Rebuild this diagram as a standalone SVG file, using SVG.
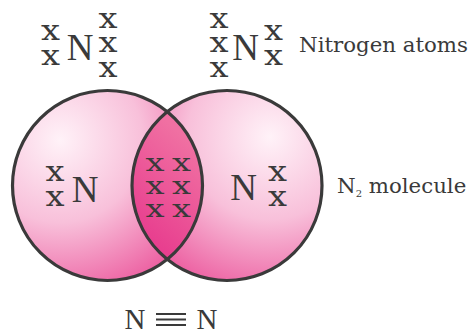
<svg xmlns="http://www.w3.org/2000/svg" width="471" height="332" viewBox="0 0 471 332">
<style>
text{font-family:"Liberation Serif","DejaVu Serif",serif;fill:#3a3a3a}
.x{font-family:"DejaVu Serif",serif;font-size:27px;text-anchor:middle}
.m{font-family:"DejaVu Serif",serif;font-size:25px;text-anchor:middle}
.n{font-size:37px;text-anchor:middle}
.f{font-size:29px;text-anchor:middle}
.l{font-family:"DejaVu Serif",serif;font-size:21.300px}
.c{fill:none;stroke:#3a3a3a;stroke-width:3.200}
</style>
<defs>
<radialGradient id="gl" gradientUnits="userSpaceOnUse" cx="60" cy="140" r="165">
<stop offset="0" stop-color="#fff2f8"/><stop offset=".5" stop-color="#f8c0da"/><stop offset="1" stop-color="#ec5a9e"/>
</radialGradient>
<radialGradient id="gr" gradientUnits="userSpaceOnUse" cx="270" cy="137" r="165">
<stop offset="0" stop-color="#fff2f8"/><stop offset=".5" stop-color="#f8c0da"/><stop offset="1" stop-color="#ec5a9e"/>
</radialGradient>
<linearGradient id="gm" gradientUnits="userSpaceOnUse" x1="135" y1="225" x2="200" y2="150">
<stop offset="0" stop-color="#e83f8f"/><stop offset="1" stop-color="#f070a2"/>
</linearGradient>
</defs>
<g id="circles">
<circle cx="107.500" cy="185.500" r="95" fill="url(#gl)"/>
<circle cx="227" cy="185.500" r="95" fill="url(#gr)"/>
<path d="M167 111.500A95 95 0 0 1 167 259.500A95 95 0 0 1 167 111.500Z" fill="url(#gm)"/>
<circle class="c" cx="107.500" cy="185.500" r="95"/>
<circle class="c" cx="227" cy="185.500" r="95"/>
</g>
<g id="atom-left">
<text class="x" textLength="19" lengthAdjust="spacingAndGlyphs" x="50.500" y="40">x</text><text class="x" textLength="19" lengthAdjust="spacingAndGlyphs" x="50.500" y="65">x</text>
<text class="n" x="80" y="60">N</text>
<text class="x" textLength="19" lengthAdjust="spacingAndGlyphs" x="108" y="28">x</text><text class="x" textLength="19" lengthAdjust="spacingAndGlyphs" x="108" y="52">x</text><text class="x" textLength="19" lengthAdjust="spacingAndGlyphs" x="108" y="77">x</text>
</g>
<g id="atom-right">
<text class="x" textLength="19" lengthAdjust="spacingAndGlyphs" x="219" y="28">x</text><text class="x" textLength="19" lengthAdjust="spacingAndGlyphs" x="219" y="52">x</text><text class="x" textLength="19" lengthAdjust="spacingAndGlyphs" x="219" y="77">x</text>
<text class="n" x="245.500" y="60">N</text>
<text class="x" textLength="19" lengthAdjust="spacingAndGlyphs" x="273.500" y="40">x</text><text class="x" textLength="19" lengthAdjust="spacingAndGlyphs" x="273.500" y="65">x</text>
</g>
<text class="l" x="299" y="52">Nitrogen atoms</text>
<g id="molecule">
<text class="x" textLength="19" lengthAdjust="spacingAndGlyphs" x="55" y="181">x</text><text class="x" textLength="19" lengthAdjust="spacingAndGlyphs" x="55" y="206">x</text>
<text class="n" x="85" y="202">N</text>
<text class="m" textLength="19" lengthAdjust="spacingAndGlyphs" x="155" y="171">x</text><text class="m" textLength="19" lengthAdjust="spacingAndGlyphs" x="181.500" y="171">x</text>
<text class="m" textLength="19" lengthAdjust="spacingAndGlyphs" x="155" y="194">x</text><text class="m" textLength="19" lengthAdjust="spacingAndGlyphs" x="181.500" y="194">x</text>
<text class="m" textLength="19" lengthAdjust="spacingAndGlyphs" x="155" y="217">x</text><text class="m" textLength="19" lengthAdjust="spacingAndGlyphs" x="181.500" y="217">x</text>
<text class="n" x="243.500" y="200">N</text>
<text class="x" textLength="19" lengthAdjust="spacingAndGlyphs" x="277.500" y="181">x</text><text class="x" textLength="19" lengthAdjust="spacingAndGlyphs" x="277.500" y="206">x</text>
</g>
<text class="l" x="337" y="193">N<tspan font-size="10" dy="4">2</tspan><tspan dy="-4"> molecule</tspan></text>
<g id="formula">
<text class="f" x="135" y="329">N</text>
<text class="f" x="207" y="329">N</text>
<path d="M156 314H186M156 319.500H186M156 325H186" stroke="#3a3a3a" stroke-width="1.800" fill="none"/>
</g>
</svg>
